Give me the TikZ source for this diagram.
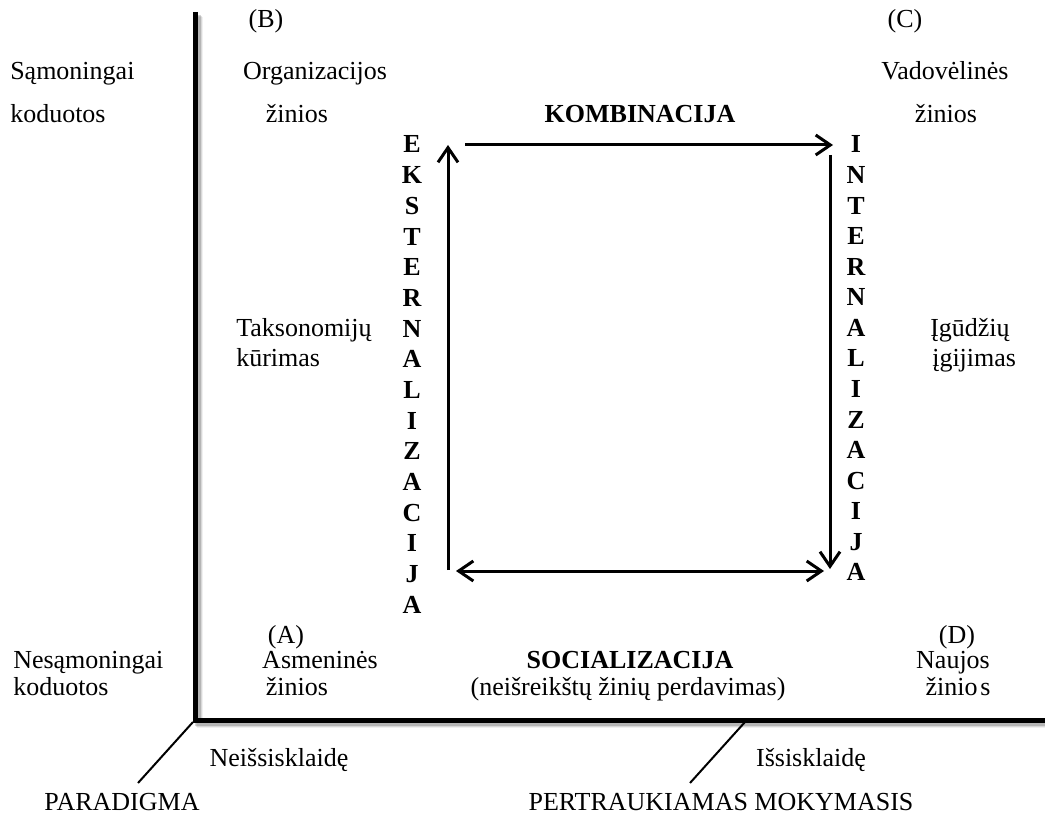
\documentclass[tikz,border=0pt]{standalone}
\usepackage{fontspec}
\setmainfont{Liberation Serif}
\usetikzlibrary{arrows.meta}
\begin{document}
\begin{tikzpicture}[x=0.75pt,y=-0.75pt,
  lbl/.style={inner sep=0pt, anchor=base, font=\fontsize{19.5}{23}\selectfont},
  lblw/.style={lbl, anchor=base west},
  boldlbl/.style={lbl, font=\fontsize{19.5}{23}\selectfont\bfseries},
  axisline/.style={line width=3.75pt},
  axisshade/.style={line width=4pt, black, opacity=#1},
  pointer/.style={line width=1.5pt},
  flow/.style={line width=2.25pt, -{Straight Barb[length=11pt,width=15pt]}},
  flowboth/.style={line width=2.25pt, {Straight Barb[length=11pt,width=15pt]}-{Straight Barb[length=11pt,width=15pt]}}]
\useasboundingbox (0,0) rectangle (1045,816);

% soft shadow under the axes
\foreach \o/\op in {5/0.06,4/0.10,3/0.16}
  \draw[axisshade=\op] (195+\o,12+\o) -- (195+\o,720+\o) -- (1045,720+\o);

% axes
\coordinate (ytop) at (195,12);
\coordinate (origin) at (195,720);
\coordinate (xend) at (1045,720);
\draw[axisline] (ytop) -- (origin) -- (xend);

% pointers to the axis names
\coordinate (p1a) at (193,722);
\coordinate (p1b) at (138,783);
\coordinate (p2a) at (745,722);
\coordinate (p2b) at (690,783);
\draw[pointer] (p1a) -- (p1b);
\draw[pointer] (p2a) -- (p2b);

% left column
\node[lblw] (s1) at (10,80) {Sąmoningai};
\node[lblw] (s2) at (10,123) {koduotos};
\node[lblw] (n1) at (13,668) {Nesąmoningai};
\node[lblw] (n2) at (13,695) {koduotos};

% quadrant B
\node[lbl] (qb) at (266,28) {(B)};
\node[lbl] (qb1) at (315,80) {Organizacijos};
\node[lbl] (qb2) at (297,123) {žinios};

% quadrant C
\node[lbl] (qc) at (905,28) {(C)};
\node[lbl] (qc1) at (945,80) {Vadovėlinės};
\node[lbl] (qc2) at (946,123) {žinios};

% quadrant A
\node[lbl] (qa) at (286,643) {(A)};
\node[lbl] (qa1) at (320,668) {Asmeninės};
\node[lbl] (qa2) at (297,695) {žinios};

% quadrant D
\node[lbl] (qd) at (957,643) {(D)};
\node[lbl] (qd1) at (953,668) {Naujos};
\node[lbl] (qd2) at (958,695) {žinio\kern2pt s};

% middle labels
\node[boldlbl] (komb) at (640,123) {KOMBINACIJA};
\node[boldlbl] (soc) at (630,668) {SOCIALIZACIJA};
\node[lbl] (soc2) at (628,695) {(neišreikštų žinių perdavimas)};
\node[lblw] (tx1) at (236,337) {Taksonomijų};
\node[lblw] (tx2) at (236,366) {kūrimas};
\node[lblw] (ig1) at (930,337) {Įgūdžių};
\node[lblw] (ig2) at (932,366) {įgijimas};

% vertical words
\foreach \l [count=\i from 0] in {E,K,S,T,E,R,N,A,L,I,Z,A,C,I,J,A}
  \node[boldlbl] (ext\i) at (412,153+30.67*\i) {\l};
\foreach \l [count=\i from 0] in {I,N,T,E,R,N,A,L,I,Z,A,C,I,J,A}
  \node[boldlbl] (int\i) at (856,153+30.57*\i) {\l};

% axis names
\node[lbl] (ax1) at (279,766) {Neišsisklaidę};
\node[lbl] (ax2) at (811,766) {Išsisklaidę};
\node[lbl] (ax3) at (122,810) {PARADIGMA};
\node[lbl] (ax4) at (721,810) {PERTRAUKIAMAS MOKYMASIS};

% knowledge conversion cycle
\coordinate (c1) at (448,570);
\coordinate (c2) at (448,145);
\coordinate (c3) at (465,145);
\coordinate (c4) at (833,145);
\coordinate (c5) at (830,155);
\coordinate (c6) at (830,569);
\coordinate (c7) at (456,571);
\coordinate (c8) at (824,571);
\draw[flow] (c1) -- (c2);
\draw[flow] (c3) -- (c4);
\draw[flow] (c5) -- (c6);
\draw[flowboth] (c7) -- (c8);
\end{tikzpicture}
\end{document}
